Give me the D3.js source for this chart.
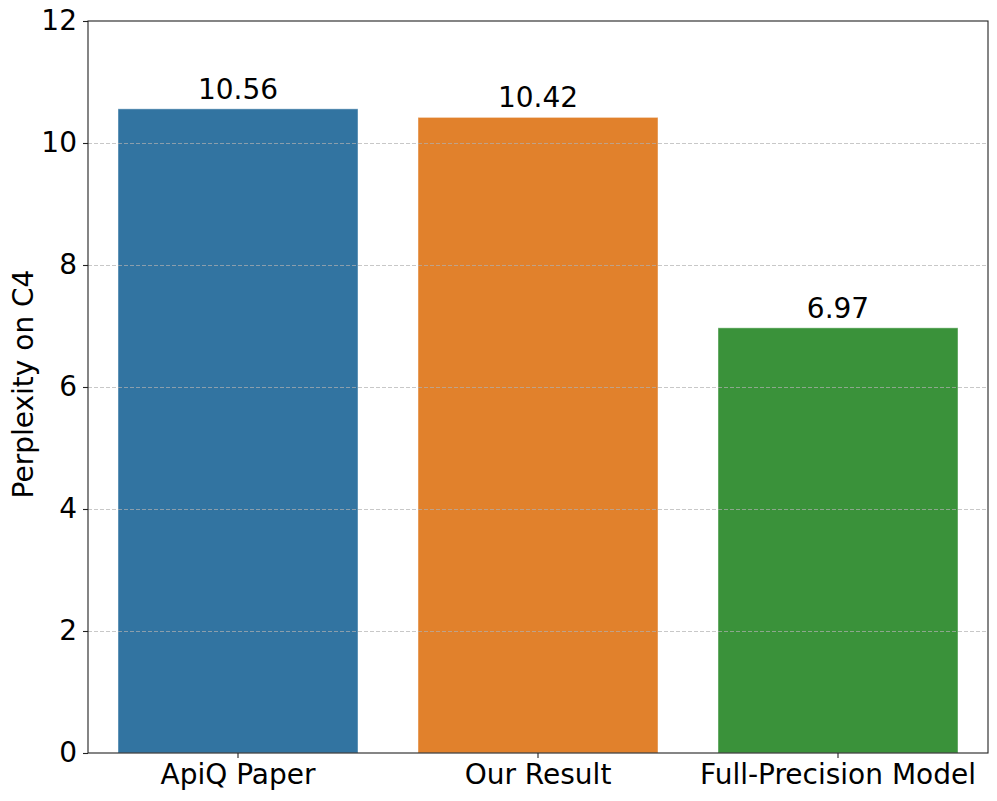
<!DOCTYPE html>
<html>
<head>
<meta charset="utf-8">
<script src="https://cdn.jsdelivr.net/npm/d3@7"></script>
<style>
  body { margin: 0; background: #fff; }
  text { font-family: "DejaVu Sans", sans-serif; fill: #000; }
</style>
</head>
<body>
<div id="chart"></div>
<script>
const categories = ['ApiQ Paper', 'Our Result', 'Full-Precision Model'];
const values = [10.56, 10.42, 6.97];
const colors = ['#3274a1', '#e1812c', '#3a923a'];
const yTicks = [0, 2, 4, 6, 8, 10, 12];

const width = 997;
const height = 801;
const margin = { top: 21, right: 9, bottom: 48, left: 88 };
const innerW = width - margin.left - margin.right;
const innerH = height - margin.top - margin.bottom;
const fontSize = '28px';

const svg = d3.select('#chart')
    .append('svg')
    .attr('width', width)
    .attr('height', height);

const g = svg.append('g')
    .attr('transform', `translate(${margin.left},${margin.top})`);

const x = d3.scaleBand()
    .domain(categories)
    .range([0, innerW])
    .paddingInner(0.2)
    .paddingOuter(0.1);

const y = d3.scaleLinear()
    .domain([0, 12])
    .range([innerH, 0]);

// bars
g.selectAll('.bar')
    .data(values)
    .enter()
    .append('rect')
    .attr('x', (d, i) => x(categories[i]))
    .attr('y', (d) => y(d))
    .attr('width', x.bandwidth())
    .attr('height', (d) => innerH - y(d))
    .style('fill', (d, i) => colors[i])
    .style('stroke', 'rgba(255,255,255,0.45)')
    .style('stroke-width', 1);

// grid (drawn above bars)
g.selectAll('.grid')
    .data(yTicks.slice(1, -1))
    .enter()
    .append('line')
    .attr('x1', 0)
    .attr('x2', innerW)
    .attr('y1', (d) => y(d) + 0.5)
    .attr('y2', (d) => y(d) + 0.5)
    .style('stroke', '#b0b0b0')
    .style('stroke-opacity', 0.7)
    .style('stroke-width', 1)
    .style('stroke-dasharray', '4,2');

// value labels
g.selectAll('.val')
    .data(values)
    .enter()
    .append('text')
    .style('text-anchor', 'middle')
    .style('font-size', fontSize)
    .attr('x', (d, i) => x(categories[i]) + x.bandwidth() / 2)
    .attr('y', (d) => y(d) - 10)
    .text((d) => d.toFixed(2));

// axes
const yAxis = g.append('g')
    .call(d3.axisLeft(y).tickValues(yTicks).tickSize(5).tickPadding(6));
const xAxis = g.append('g')
    .attr('transform', `translate(0,${innerH})`)
    .call(d3.axisBottom(x).tickSize(5).tickPadding(5));

[yAxis, xAxis].forEach((ax) => {
    ax.select('.domain').remove();
    ax.selectAll('line').style('stroke', '#222').style('stroke-width', 1.1);
    ax.selectAll('text')
        .style('font-size', fontSize)
        .style('font-family', '"DejaVu Sans", sans-serif')
        .style('fill', '#000');
});
xAxis.selectAll('text').attr('dy', '0.76em');

// frame
g.append('rect')
    .attr('x', 0)
    .attr('y', 0)
    .attr('width', innerW)
    .attr('height', innerH)
    .style('fill', 'none')
    .style('stroke', '#222')
    .style('stroke-width', 1.1);

// y title
svg.append('text')
    .attr('transform', `translate(23,${margin.top + innerH / 2 - 3}) rotate(-90)`)
    .style('text-anchor', 'middle')
    .style('font-size', fontSize)
    .attr('dy', '0.35em')
    .text('Perplexity on C4');
</script>
</body>
</html>
